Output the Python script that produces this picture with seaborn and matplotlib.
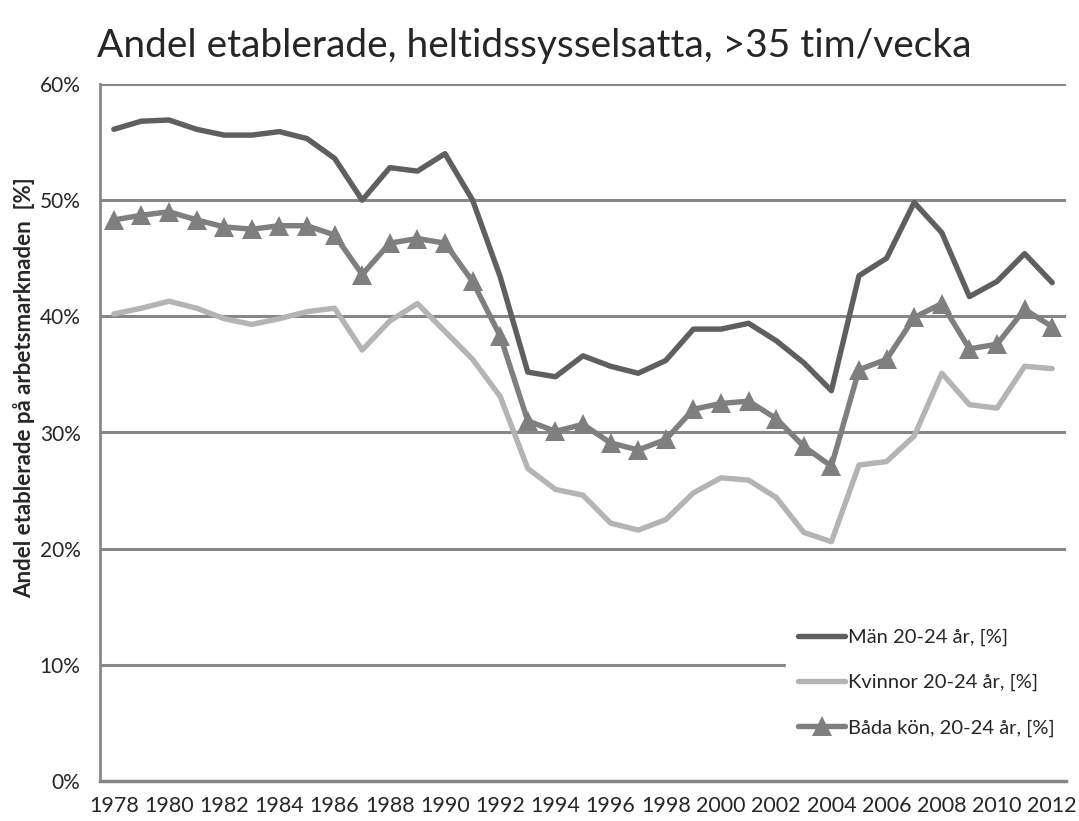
import pandas as pd
import matplotlib.pyplot as plt
import seaborn as sns

# Share of established, full-time employed (>35 h/week), age 20-24
years = list(range(1978, 2013))
man = [56.1, 56.8, 56.9, 56.1, 55.6, 55.6, 55.9, 55.3, 53.6, 50.0, 52.8, 52.5, 54.0,
       50.0, 43.4, 35.2, 34.8, 36.6, 35.7, 35.1, 36.2, 38.9, 38.9, 39.4, 37.9,
       36.0, 33.6, 43.5, 45.0, 49.8, 47.2, 41.7, 43.0, 45.4, 42.9]
kvinnor = [40.2, 40.7, 41.3, 40.7, 39.8, 39.3, 39.8, 40.4, 40.7, 37.1, 39.6, 41.1, 38.7,
           36.3, 33.1, 26.9, 25.1, 24.6, 22.2, 21.6, 22.5, 24.8, 26.1, 25.9, 24.4,
           21.4, 20.6, 27.2, 27.5, 29.7, 35.1, 32.4, 32.1, 35.7, 35.5]
bada = [48.3, 48.7, 49.0, 48.3, 47.7, 47.5, 47.8, 47.8, 47.0, 43.6, 46.3, 46.7, 46.3,
        43.0, 38.3, 31.0, 30.1, 30.7, 29.1, 28.5, 29.4, 32.0, 32.5, 32.7, 31.2,
        28.8, 27.1, 35.4, 36.3, 39.9, 41.1, 37.2, 37.6, 40.6, 39.1]
series_names = ["Män 20-24 år, [%]", "Kvinnor 20-24 år, [%]", "Båda kön, 20-24 år, [%]"]
tick_years = list(range(1978, 2013, 2))

sns.set_theme(style="white")
plt.rcParams['font.family'] = ['Lato', 'DejaVu Sans']

fig = plt.figure(figsize=(10.79, 8.21), dpi=100)
ax = fig.add_axes([100 / 1079, 40 / 821, 966 / 1079, 697 / 821])

for y in [10, 20, 30, 40, 50, 60]:
    ax.axhline(y, color='#878787', linewidth=2.2, zorder=0)

sns.lineplot(x=years, y=man, color='#5f5f5f', linewidth=3.9, label=series_names[0], ax=ax)
sns.lineplot(x=years, y=kvinnor, color='#b4b4b4', linewidth=3.9, label=series_names[1], ax=ax)
sns.lineplot(x=years, y=bada, color='#7f7f7f', linewidth=3.9, marker='^', markersize=14,
             markeredgewidth=0, label=series_names[2], ax=ax)

ax.set_xlim(1977.5, 2012.5)
ax.set_ylim(0, 60)
ax.set_xticks(tick_years)
ax.set_xticklabels([str(t) for t in tick_years], fontsize=15.5)
ax.set_yticks([0, 10, 20, 30, 40, 50, 60])
ax.set_yticklabels([f'{t}%' for t in range(0, 70, 10)], fontsize=15)
ax.tick_params(axis='y', pad=14, length=0)
ax.tick_params(axis='x', pad=11, length=0)
ax.set_xlabel('')
ax.set_ylabel('Andel etablerade på arbetsmarknaden  [%]', fontsize=16, fontweight='bold')
ax.yaxis.set_label_coords(-0.067, 0.565)

for side in ['top', 'right']:
    ax.spines[side].set_visible(False)
ax.spines['left'].set_color('#878787')
ax.spines['left'].set_linewidth(2)
ax.spines['bottom'].set_color('#878787')
ax.spines['bottom'].set_linewidth(2.5)

leg = ax.legend(loc='upper left', bbox_to_anchor=(0.70, 0.25), frameon=True, fontsize=14.5,
                handlelength=2.3, labelspacing=1.38, handletextpad=0.15, borderpad=0.6)
leg.get_frame().set_facecolor('white')
leg.get_frame().set_edgecolor('white')
leg.get_frame().set_alpha(1)

fig.text(97 / 1079, 1 - 46 / 821, 'Andel etablerade, heltidssysselsatta, >35 tim/vecka',
         fontsize=28, va='center', ha='left')

fig.savefig('out.png', dpi=100)
